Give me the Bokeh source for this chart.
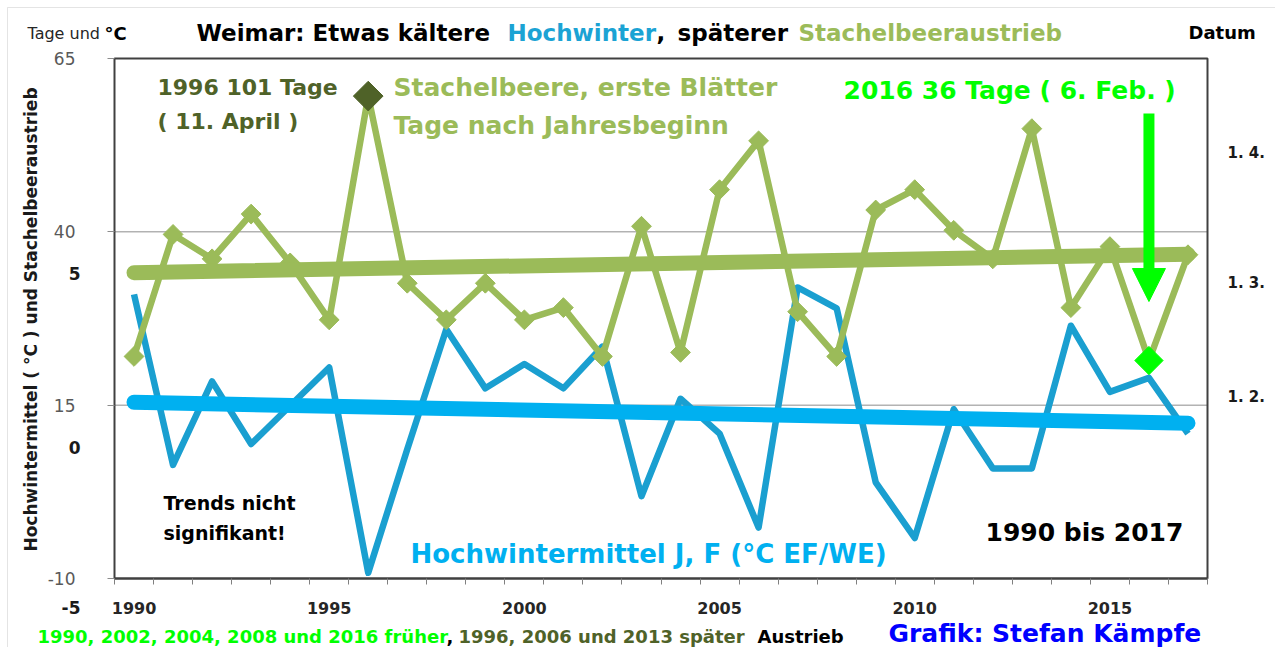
import math
from bokeh.plotting import figure
from bokeh.models import (Range1d, LinearAxis, FixedTicker, Label, Arrow, NormalHead,
                          BoxAnnotation, NumeralTickFormatter)
from bokeh.embed import file_html
from bokeh.resources import INLINE

# ---------------- data ----------------
YEARS = list(range(1990, 2018))
# Hochwintermittel Januar/Februar, Weimar (°C)
TEMP_JF = [4.4, -0.5, 1.9, 0.1, 1.2, 2.3, -3.6, -0.05, 3.4, 1.7,
           2.4, 1.7, 2.9, -1.4, 1.4, 0.4, -2.3, 4.6, 4.0, -1.0,
           -2.6, 1.1, -0.6, -0.6, 3.5, 1.6, 2.0, 0.4]
# Stachelbeere, erste Blätter: Tage nach Jahresbeginn
AUSTRIEB_TAGE = [37, 67, 61, 72, 60, 46, 101, 55, 46, 55,
                 46, 49, 37, 69, 38, 78, 90, 48, 37, 73,
                 78, 68, 61, 93, 49, 64, 36, 62]
TREND_YEARS = [1990, 2017]
TREND_TEMP = [1.3, 0.7]
TREND_TAGE = [57.6, 62.1]
LATE_YEAR = 1996
EARLY_YEAR = 2016

LEFT_TICKS_OUTER = [-10, 65]
LEFT_TICKS_INNER = [15, 40]
GRID_TICKS = [15, 40]
TEMP_TICKS = [5, 0]
X_LABEL_YEARS = [1990, 1995, 2000, 2005, 2010, 2015]
DATUM_LABELS = ["1. 4.", "1. 3.", "1. 2."]
DATUM_TAGE = [87, 55, 27]

# ---------------- layout constants ----------------
W, H = 1275, 647
BOX_L, BOX_R, BOX_T, BOX_B = 114, 1207, 58, 578     # plot box in page px
X0, X1 = 1989.5, 2017.5                              # year axis span of the box
Y0, Y1 = -10, 65                                     # left axis span of the box
TEMP_BOX = (-3.764, 11.178)                          # °C span of the box
DAYS_BOX = (-17.58, 110.24)                          # Tage span of the box
FONT = "DejaVu Sans"


def x_range_full():
    k = (BOX_R - BOX_L) / (X1 - X0)
    return Range1d(X0 - BOX_L / k, X1 + (W - BOX_R) / k)


def y_range_full(lo, hi):
    k = (BOX_B - BOX_T) / (hi - lo)
    return Range1d(lo - (H - BOX_B) / k, hi + BOX_T / k)


p = figure(width=W, height=H, output_backend="svg", toolbar_location=None,
           x_range=x_range_full(), y_range=y_range_full(Y0, Y1),
           x_axis_type=None, y_axis_type=None, min_border=0,
           background_fill_color="white", border_fill_color="white",
           outline_line_color=None)
p.extra_y_ranges = {"temp": y_range_full(*TEMP_BOX), "days": y_range_full(*DAYS_BOX)}

# outer picture frame (top/left visible in the reference)
p.add_layout(BoxAnnotation(left=7, right=W + 5, bottom=-5, top=H - 7,
                           left_units="screen", right_units="screen",
                           bottom_units="screen", top_units="screen",
                           fill_alpha=0, line_color="#a6a6a6", line_width=1))

# grid lines and plot box
p.segment(x0=[X0] * len(GRID_TICKS), y0=GRID_TICKS, x1=[X1] * len(GRID_TICKS),
          y1=GRID_TICKS, line_color="#8c8c8c", line_width=1)
p.quad(left=[X0], right=[X1], bottom=[Y0], top=[Y1], fill_color=None,
       line_color="#404040", line_width=2)

# x axis
xa = LinearAxis(fixed_location=Y0, bounds=(X0, X1),
                ticker=FixedTicker(ticks=X_LABEL_YEARS,
                                   minor_ticks=[y - 0.5 for y in YEARS] + [YEARS[-1] + 0.5]))
xa.major_tick_line_color = None
xa.major_tick_out = 0
xa.major_tick_in = 0
xa.minor_tick_line_color = "#808080"
xa.minor_tick_out = 6
xa.minor_tick_in = 0
xa.axis_line_color = "#404040"
xa.axis_line_width = 2
xa.major_label_text_font = FONT
xa.major_label_text_font_style = "bold"
xa.major_label_text_font_size = "16px"
xa.major_label_text_color = "#262626"
xa.major_label_standoff = 17
p.add_layout(xa, "below")


# left axis (Tage und °C scale), drawn as two tick groups
def gray_axis(ticks):
    ax = LinearAxis(fixed_location=X0, ticker=FixedTicker(ticks=ticks),
                    formatter=NumeralTickFormatter(format="0"))
    ax.major_tick_line_color = "#8c8c8c"
    ax.major_tick_out = 7
    ax.major_tick_in = 0
    ax.minor_tick_line_color = None
    ax.axis_line_color = None
    ax.major_label_text_font = FONT
    ax.major_label_text_font_size = "17px"
    ax.major_label_text_color = "#595959"
    ax.major_label_standoff = 32
    p.add_layout(ax, "left")


gray_axis(LEFT_TICKS_OUTER)
gray_axis(LEFT_TICKS_INNER)

# temperature labels (bold)
ta = LinearAxis(y_range_name="temp", fixed_location=X0, ticker=FixedTicker(ticks=TEMP_TICKS))
ta.axis_line_color = None
ta.major_tick_line_color = None
ta.minor_tick_line_color = None
ta.major_label_text_font = FONT
ta.major_label_text_font_style = "bold"
ta.major_label_text_font_size = "17px"
ta.major_label_text_color = "#1a1a1a"
ta.major_label_standoff = 28
p.add_layout(ta, "left")

# right axis (Datum)
ra = LinearAxis(y_range_name="days", fixed_location=X1, ticker=FixedTicker(ticks=DATUM_TAGE),
                major_label_overrides=dict(zip(DATUM_TAGE, DATUM_LABELS)))
ra.axis_line_color = None
ra.major_tick_line_color = None
ra.minor_tick_line_color = None
ra.major_label_standoff = 14
ra.major_label_text_font = FONT
ra.major_label_text_font_style = "bold"
ra.major_label_text_font_size = "15px"
ra.major_label_text_color = "#1a1a1a"
p.add_layout(ra, "right")

# ---------------- series ----------------
BLUE = "#1a9fd0"
BLUE_T = "#00b0f0"
GREEN = "#9bbb59"
DARK = "#4f6228"
LIME = "#00ff00"

p.line(YEARS, TEMP_JF, y_range_name="temp", line_color=BLUE, line_width=6.5,
       line_join="round")
p.line(YEARS, AUSTRIEB_TAGE, y_range_name="days", line_color=GREEN,
       line_width=6.5, line_join="round")
p.scatter(YEARS, AUSTRIEB_TAGE, y_range_name="days", marker="square",
          angle=math.pi / 4, size=14, color=GREEN)
p.line(TREND_YEARS, TREND_TEMP, y_range_name="temp", line_color=BLUE_T,
       line_width=15, line_cap="round")
p.line(TREND_YEARS, TREND_TAGE, y_range_name="days", line_color=GREEN,
       line_width=15, line_cap="round")

i_late = YEARS.index(LATE_YEAR)
i_early = YEARS.index(EARLY_YEAR)
p.scatter([LATE_YEAR], [AUSTRIEB_TAGE[i_late]], y_range_name="days",
          marker="square", angle=math.pi / 4, size=21, color=DARK)
p.scatter([EARLY_YEAR], [AUSTRIEB_TAGE[i_early]], y_range_name="days",
          marker="square", angle=math.pi / 4, size=20, color=LIME)

p.add_layout(Arrow(x_start=EARLY_YEAR, y_start=96.7, x_end=EARLY_YEAR, y_end=50.5,
                   y_range_name="days", line_color=LIME, line_width=11,
                   end=NormalHead(size=33, fill_color=LIME, line_color=LIME)))


# ---------------- texts ----------------
def lab(text, X, Y, size, color="#000000", bold=True, align="left", angle=0.0):
    p.add_layout(Label(x=X, y=H - Y, x_units="screen", y_units="screen",
                       text=text, text_font=FONT, text_font_size=f"{size}px",
                       text_font_style="bold" if bold else "normal",
                       text_color=color, text_align=align, angle=angle,
                       text_baseline="middle"))


lab("Tage und", 27, 33, 16, "#262626", bold=False)
lab("°C", 104, 33, 18)
lab("Weimar: Etwas kältere", 196, 32, 23)
lab("Hochwinter", 507, 32, 23, "#1ba3d4")
lab(",", 656, 32, 23)
lab("späterer", 677, 32, 23)
lab("Stachelbeeraustrieb", 798, 32, 23, GREEN)
lab("Datum", 1188, 32, 18)

lab("Hochwintermittel ( °C ) und Stachelbeeraustrieb", 30, 319, 17, "#1a1a1a",
    align="center", angle=math.pi / 2)
lab("-5", 80, 607, 17, "#1a1a1a", align="right")

lab("1996 101 Tage", 157, 87, 22, DARK)
lab("( 11. April )", 157, 121, 22, DARK)
lab("Stachelbeere, erste Blätter", 393, 87, 25, GREEN)
lab("Tage nach Jahresbeginn", 393, 125, 25, GREEN)
lab("2016 36 Tage ( 6. Feb. )", 843, 90, 25, LIME)
lab("Trends nicht", 163, 502, 19)
lab("signifikant!", 163, 532, 19)
lab("Hochwintermittel  J, F (°C EF/WE)", 410, 553, 26, BLUE_T)
lab("1990 bis 2017", 985, 532, 25)

lab("1990, 2002, 2004, 2008 und 2016 früher", 37, 636, 18, LIME)
lab(",", 446, 636, 18)
lab("1996, 2006 und 2013 später", 458, 636, 18, DARK)
lab("Austrieb", 757, 636, 18)
lab("Grafik: Stefan Kämpfe", 888, 633, 25, "#0000ff")

open("out.html", "w").write(file_html(p, INLINE))
